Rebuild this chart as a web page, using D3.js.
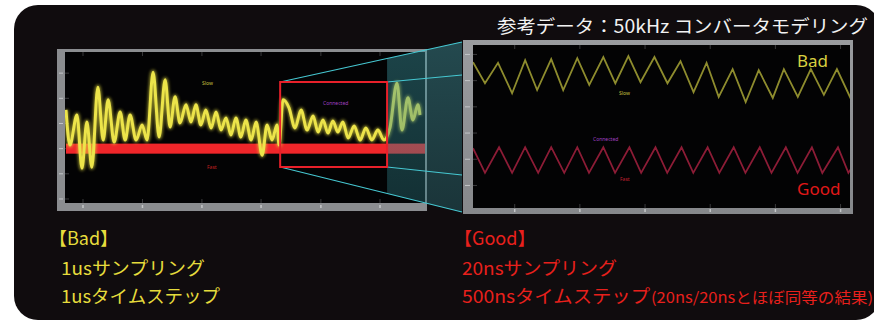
<!DOCTYPE html>
<html>
<head>
<meta charset="utf-8">
<script src="https://cdn.jsdelivr.net/npm/d3@7"></script>
<style>
html, body { margin: 0; padding: 0; background: #fff; }
svg { display: block; }
</style>
</head>
<body>
<svg width="874" height="322"></svg>
<script>
// ---- data read off the scope captures ----
// left scope (1us sampling): slow trace [t, v], fast band limits
var slowTrace = [[0,0.77],[1.1,0.07],[3.1,0.67],[4.5,-0.39],[5.9,0.53],[7.3,-0.37],[9.0,1.22],[10.5,0.17],
  [11.9,0.97],[13.6,0.13],[15.3,0.73],[16.7,0.17],[18.1,0.67],[19.8,0.17],[21.5,0.47],[22.9,0.17],
  [24.6,1.52],[26.3,0.23],[28.0,1.37],[29.4,0.43],[30.8,1.03],[32.2,0.51],[33.9,0.87],[35.3,0.53],
  [36.7,0.87],[38.1,0.47],[39.5,0.77],[41.0,0.41],[42.4,0.73],[43.8,0.37],[45.2,0.61],[46.6,0.27],
  [48.0,0.61],[49.4,0.23],[50.8,0.57],[52.3,0.17],[53.7,0.53],[55.4,-0.13],[56.8,0.47],[58.2,0.17],
  [59.6,0.47],[60.2,0.07],[61.3,0.97],[63.0,0.81],[64.7,0.41],[66.4,0.77],[68.1,0.37],[69.8,0.65],
  [71.2,0.33],[72.6,0.57],[74.0,0.31],[75.4,0.55],[76.8,0.33],[78.2,0.53],[79.7,0.21],[81.4,0.45],
  [83.1,0.17],[84.7,0.41],[86.4,0.17],[88.1,0.37],[89.8,0.17],[91.5,0.41],[93.5,1.30],[94.9,0.37],
  [96.6,1.01],[98.0,0.57],[99.4,0.87],[100,0.67]];
var fastBand = [-0.1, 0.1];
var zoomRange = [60.5, 90.7];            // red box on the left scope
var leftYTicks = [-1, -0.5, 0, 0.5, 1, 1.5];
var leftXTicks = [4.8, 21.6, 38.4, 55.1, 72, 88.7];

// right scope (20ns sampling / 500ns step), t in us
var badT = [0,9.2,19.2,30,40,49.2,60,69.2,80,89.2,100,109.2,119.2,128.5,139.2,149.2,159.2,169.2,179.2,
  188.5,199.2,209.2,219.2,230,238.5,249.2,259.2,269.2,279.2,289.2,292];
var badV = [1.35,0.95,1.34,0.76,1.39,0.82,1.41,0.82,1.43,0.92,1.45,0.95,1.47,0.97,1.45,0.95,1.37,0.78,
  1.34,0.69,1.22,0.59,1.20,0.67,1.22,0.69,1.22,0.73,1.22,0.69,0.82];
var goodT = [0,9.2,20,30,40,50,60,70,80,89,100,109,120,129,140,149,160,169,180,189,200,209,220,229,
  240,249,260,268,280,288,292];
var goodV = [-0.29,-0.76,-0.27,-0.76,-0.27,-0.76,-0.27,-0.76,-0.27,-0.76,-0.27,-0.76,-0.27,-0.76,
  -0.27,-0.76,-0.27,-0.76,-0.27,-0.76,-0.27,-0.76,-0.27,-0.76,-0.27,-0.76,-0.27,-0.76,-0.27,-0.76,-0.61];
var rightYTicks = [1.5, 1, 0.5, 0, -0.5, -1];
var rightXTicks = [32, 82, 132, 182, 232, 282];

var titleText = "参考データ：50kHz コンバータモデリング";
var badLines = ["【Bad】", "1usサンプリング", "1usタイムステップ"];
var goodLines = ["【Good】", "20nsサンプリング", "500nsタイムステップ"];
var goodNote = "(20ns/20nsとほぼ同等の結果)";

var jp = "'Noto Sans CJK JP', 'Noto Sans', sans-serif";
var yellow = "#e6dc3c";
var red = "#e8201c";

var svg = d3.select("svg");
var defs = svg.append("defs");

var glow = defs.append("filter").attr("id", "glow")
    .attr("x", "-5%").attr("y", "-20%").attr("width", "110%").attr("height", "140%");
glow.append("feGaussianBlur").attr("stdDeviation", 1.6);

// dark panel
svg.append("rect")
   .attr("x", 14).attr("y", 5)
   .attr("width", 866).attr("height", 315)
   .attr("rx", 24)
   .attr("fill", "#100c0e");

// ---------- left scope ----------
var lx = d3.scaleLinear().domain([0, 100]).range([66, 420]);
var ly = d3.scaleLinear().domain([-1.08, 1.92]).range([203, 52]);

svg.append("rect").attr("x", 57).attr("y", 49).attr("width", 370).attr("height", 162)
   .attr("fill", "#8b8d90");
svg.append("rect").attr("x", 65).attr("y", 52).attr("width", 360).attr("height", 151)
   .attr("fill", "#030304");

defs.append("clipPath").attr("id", "clipL")
    .append("rect").attr("x", 65).attr("y", 52).attr("width", 360).attr("height", 151);

var left = svg.append("g").attr("clip-path", "url(#clipL)");

// tick marks
leftYTicks.forEach(function(v) {
    svg.append("line").attr("x1", 59).attr("x2", 63).attr("y1", ly(v)).attr("y2", ly(v))
       .attr("stroke", "#c4c6c8").attr("stroke-width", 1);
    left.append("line").attr("x1", 65).attr("x2", 69).attr("y1", ly(v)).attr("y2", ly(v))
       .attr("stroke", "#3a3a3c").attr("stroke-width", 1);
});
leftXTicks.forEach(function(t) {
    svg.append("line").attr("x1", lx(t)).attr("x2", lx(t)).attr("y1", 205).attr("y2", 208)
       .attr("stroke", "#c4c6c8").attr("stroke-width", 1.5);
    left.append("line").attr("x1", lx(t)).attr("x2", lx(t)).attr("y1", 199).attr("y2", 203)
       .attr("stroke", "#3a3a3c");
    left.append("line").attr("x1", lx(t)).attr("x2", lx(t)).attr("y1", 52).attr("y2", 56)
       .attr("stroke", "#3a3a3c");
});

// fast band
left.append("rect")
    .attr("x", lx(0)).attr("width", lx(100) - lx(0) + 6)
    .attr("y", ly(fastBand[1])).attr("height", ly(fastBand[0]) - ly(fastBand[1]))
    .attr("fill", "#f0262a");

// slow trace
var slowLine = d3.line()
    .x(function(d) { return lx(d[0]); })
    .y(function(d) { return ly(d[1]); })
    .curve(d3.curveMonotoneX);
left.append("path").attr("d", slowLine(slowTrace))
    .attr("fill", "none").attr("stroke", "#e8e040").attr("stroke-width", 5)
    .attr("opacity", 0.6).attr("filter", "url(#glow)");
left.append("path").attr("d", slowLine(slowTrace))
    .attr("fill", "none").attr("stroke", "#ece44a").attr("stroke-width", 3)
    .attr("stroke-linejoin", "round");

left.append("text").attr("x", 202).attr("y", 85).text("Slow")
    .style("font-size", "5px").style("font-family", "'Noto Sans', sans-serif").attr("fill", "#c8c040");
left.append("text").attr("x", 207).attr("y", 169).text("Fast")
    .style("font-size", "5px").style("font-family", "'Noto Sans', sans-serif").attr("fill", "#c02020");
left.append("text").attr("x", 323).attr("y", 105).text("Connected")
    .style("font-size", "5px").style("font-family", "'Noto Sans', sans-serif").attr("fill", "#a040c0");

// ---------- zoom cone ----------
var bx0 = lx(zoomRange[0]), bx1 = lx(zoomRange[1]);
var by0 = 82, by1 = 167;
var rx0 = 462, ryTop = 42, ryBot = 212;
function lerpY(xa, ya, xb, yb, x) { return ya + (yb - ya) * (x - xa) / (xb - xa); }

var tealGrad = defs.append("linearGradient").attr("id", "teal")
    .attr("x1", 0).attr("y1", 0).attr("x2", 0).attr("y2", 1);
tealGrad.append("stop").attr("offset", "0%").attr("stop-color", "#3f9ea8").attr("stop-opacity", 0.42);
tealGrad.append("stop").attr("offset", "100%").attr("stop-color", "#2a727a").attr("stop-opacity", 0.4);

svg.append("polygon")
   .attr("points", [[bx1, lerpY(bx0, by0, rx0, ryTop, bx1)], [rx0, ryTop], [rx0, ryBot],
                    [bx1, lerpY(bx0, by1, rx0, ryBot, bx1)]].join(" "))
   .attr("fill", "url(#teal)");

[[bx0, by0, rx0, ryTop], [bx1, by0, rx0, 75], [bx0, by1, rx0, ryBot], [bx1, by1, rx0, 175]]
  .forEach(function(s) {
    svg.append("line").attr("x1", s[0]).attr("y1", s[1]).attr("x2", s[2]).attr("y2", s[3])
       .attr("stroke", "#46c8d2").attr("stroke-width", 1.2);
  });

svg.append("rect").attr("x", bx0).attr("y", by0)
   .attr("width", bx1 - bx0).attr("height", by1 - by0)
   .attr("fill", "none").attr("stroke", "#e8202a").attr("stroke-width", 2);

// ---------- right scope ----------
var rxs = d3.scaleLinear().domain([0, 290]).range([473, 851]);
var rys = d3.scaleLinear().domain([-1.43, 1.68]).range([208, 45]);

var frameGrad = defs.append("linearGradient").attr("id", "frame")
    .attr("x1", 0).attr("y1", 0).attr("x2", 0).attr("y2", 1);
frameGrad.append("stop").attr("offset", "0%").attr("stop-color", "#9a9c9f");
frameGrad.append("stop").attr("offset", "100%").attr("stop-color", "#86888b");

svg.append("rect").attr("x", 463).attr("y", 40).attr("width", 390).attr("height", 174)
   .attr("fill", "url(#frame)");
svg.append("rect").attr("x", 473).attr("y", 45).attr("width", 377).attr("height", 163)
   .attr("fill", "#030304");

defs.append("clipPath").attr("id", "clipR")
    .append("rect").attr("x", 473).attr("y", 45).attr("width", 377).attr("height", 163);
var right = svg.append("g").attr("clip-path", "url(#clipR)");

rightYTicks.forEach(function(v) {
    svg.append("line").attr("x1", 465).attr("x2", 470).attr("y1", rys(v)).attr("y2", rys(v))
       .attr("stroke", "#c4c6c8").attr("stroke-width", 1);
    right.append("line").attr("x1", 473).attr("x2", 477).attr("y1", rys(v)).attr("y2", rys(v))
       .attr("stroke", "#3a3a3c");
});
rightXTicks.forEach(function(t) {
    svg.append("line").attr("x1", rxs(t)).attr("x2", rxs(t)).attr("y1", 209).attr("y2", 212)
       .attr("stroke", "#c4c6c8").attr("stroke-width", 1.5);
    right.append("line").attr("x1", rxs(t)).attr("x2", rxs(t)).attr("y1", 204).attr("y2", 208)
       .attr("stroke", "#3a3a3c");
    right.append("line").attr("x1", rxs(t)).attr("x2", rxs(t)).attr("y1", 45).attr("y2", 49)
       .attr("stroke", "#3a3a3c");
});

var waveLine = d3.line()
    .x(function(d) { return rxs(d[0]); })
    .y(function(d) { return rys(d[1]); });
right.append("path").attr("d", waveLine(d3.zip(badT, badV)))
    .attr("fill", "none").attr("stroke", "#8e8c2e").attr("stroke-width", 1.8);
right.append("path").attr("d", waveLine(d3.zip(goodT, goodV)))
    .attr("fill", "none").attr("stroke", "#8c1c36").attr("stroke-width", 1.8);

right.append("text").attr("x", 619).attr("y", 95).text("Slow")
    .style("font-size", "5px").style("font-family", "'Noto Sans', sans-serif").attr("fill", "#c8c040");
right.append("text").attr("x", 593).attr("y", 141).text("Connected")
    .style("font-size", "5px").style("font-family", "'Noto Sans', sans-serif").attr("fill", "#a040c0");
right.append("text").attr("x", 620).attr("y", 181).text("Fast")
    .style("font-size", "5px").style("font-family", "'Noto Sans', sans-serif").attr("fill", "#c02030");

svg.append("text").attr("x", 797).attr("y", 67).text("Bad")
   .style("font-size", "17px").style("font-family", "'Noto Sans', sans-serif").attr("fill", "#d8d040");
svg.append("text").attr("x", 797).attr("y", 195).text("Good")
   .style("font-size", "17px").style("font-family", "'Noto Sans', sans-serif").attr("fill", "#e01818");

// ---------- captions ----------
svg.append("text").attr("x", 497).attr("y", 33).text(titleText)
   .attr("textLength", 371).attr("lengthAdjust", "spacingAndGlyphs")
   .style("font-size", "18px").style("font-family", jp).attr("fill", "#f2f2f2");

var lineY = [245, 275, 303];
var badWidths = [null, 144, 159];
var goodWidths = [null, 155, 188];
function caption(s, x, y, w, color) {
    var t = svg.append("text").attr("x", x).attr("y", y).text(s)
       .style("font-size", "18px").style("font-family", jp).attr("fill", color);
    if (w) t.attr("textLength", w).attr("lengthAdjust", "spacingAndGlyphs");
    return t;
}
badLines.forEach(function(s, i) {
    caption(s, i == 0 ? 49 : 61, lineY[i], badWidths[i], yellow);
});
goodLines.forEach(function(s, i) {
    caption(s, i == 0 ? 454 : 462, lineY[i], goodWidths[i], red);
});
svg.append("text").attr("x", 651).attr("y", lineY[2]).text(goodNote)
   .attr("textLength", 222).attr("lengthAdjust", "spacingAndGlyphs")
   .style("font-size", "15px").style("font-family", jp).attr("fill", red);
</script>
</body>
</html>
